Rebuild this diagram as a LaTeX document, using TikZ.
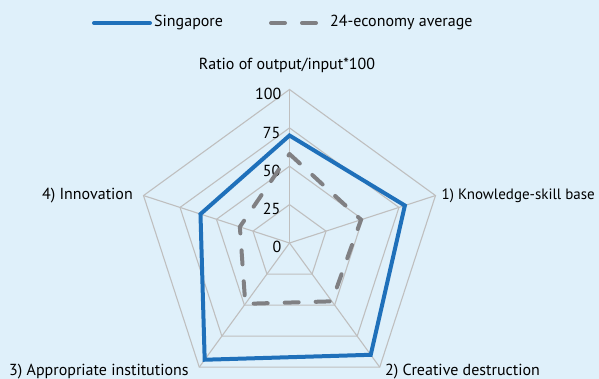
\documentclass[tikz,border=0pt]{standalone}
\usepackage{fontspec}
\setmainfont{PT Sans}
\usepackage{tikz}
\usetikzlibrary{positioning}

\definecolor{bgblue}{HTML}{DFF0FA}
\definecolor{sgblue}{HTML}{1F70BA}
\definecolor{avggrey}{HTML}{808083}
\definecolor{gridgrey}{HTML}{BFBFBF}

\tikzset{
  gridline/.style={gridgrey, line width=1.1pt},
  sgline/.style={sgblue, line width=4pt, line join=miter},
  avgline/.style={avggrey, line width=4pt, line cap=round, dash pattern=on 14pt off 17pt},
  lbl/.style={inner sep=0pt, font=\fontsize{16}{18}\selectfont},
  ticklbl/.style={inner sep=0pt, anchor=east, font=\fontsize{16}{18}\selectfont}
}

\begin{document}
\begin{tikzpicture}[x=1pt, y=1pt]
  	\fill[bgblue] (0,0) rectangle (599,379);
  	\useasboundingbox (0,0) rectangle (599,379);

  	% legend
  	\coordinate (SGa) at (94,356);
  	\coordinate (SGb) at (150,356);
  	\draw[sgblue, line width=4pt, line cap=round] (SGa) -- (SGb);
  	\node[lbl, anchor=west] (SG) at (154,356) {Singapore};
  	\coordinate (AVa) at (271,356);
  	\coordinate (AVb) at (320,356);
  	\draw[avgline] (AVa) -- (AVb);
  	\node[lbl, anchor=west] (AV) at (330,356) {24-economy average};

  	% title
  	\node[lbl] (T) at (287,314) {Ratio of output/input*100};

  	\begin{scope}[shift={(289.5,136)}]
  	\coordinate (O) at (0,0);

  	% grid
  	\draw[gridline] (90:153.5) -- (18:153.5) -- (-54:153.5) -- (-126:153.5) -- (162:153.5) -- cycle;
  	\draw[gridline] (90:115.1) -- (18:115.1) -- (-54:115.1) -- (-126:115.1) -- (162:115.1) -- cycle;
  	\draw[gridline] (90:76.75) -- (18:76.75) -- (-54:76.75) -- (-126:76.75) -- (162:76.75) -- cycle;
  	\draw[gridline] (90:38.4) -- (18:38.4) -- (-54:38.4) -- (-126:38.4) -- (162:38.4) -- cycle;
  	\draw[gridline] (O) -- (90:153.5);
  	\draw[gridline] (O) -- (18:153.5);
  	\draw[gridline] (O) -- (-54:153.5);
  	\draw[gridline] (O) -- (-126:153.5);
  	\draw[gridline] (O) -- (162:153.5);

  	% ticks
  	\node[ticklbl] (V100) at (-8,149) {100};
  	\node[ticklbl] (V75) at (-9,110.3) {75};
  	\node[ticklbl] (V50) at (-9,72.3) {50};
  	\node[ticklbl] (V25) at (-9,34) {25};
  	\node[ticklbl] (V0) at (-8,-3.7) {0};

  	% data
  	\draw[avgline] (90:89.0) -- (18:75.2) -- (-54:72.1) -- (-126:75.2) -- (162:52.2) -- cycle;
  	\draw[sgline] (90:107.5) -- (18:121.3) -- (-54:138.2) -- (-126:144.3) -- (162:93.6) -- cycle;
  	\end{scope}

  	% axis labels
  	\node[lbl, anchor=west, font=\fontsize{15}{18}\selectfont] (A1) at (441.5,183) {1) Knowledge-skill base};
  	\node[lbl, anchor=west] (A2) at (385,7) {2) Creative destruction};
  	\node[lbl, anchor=west] (A3) at (9,7) {3) Appropriate institutions};
  	\node[lbl, anchor=east] (A4) at (133,183) {4) Innovation};
\end{tikzpicture}
\end{document}
